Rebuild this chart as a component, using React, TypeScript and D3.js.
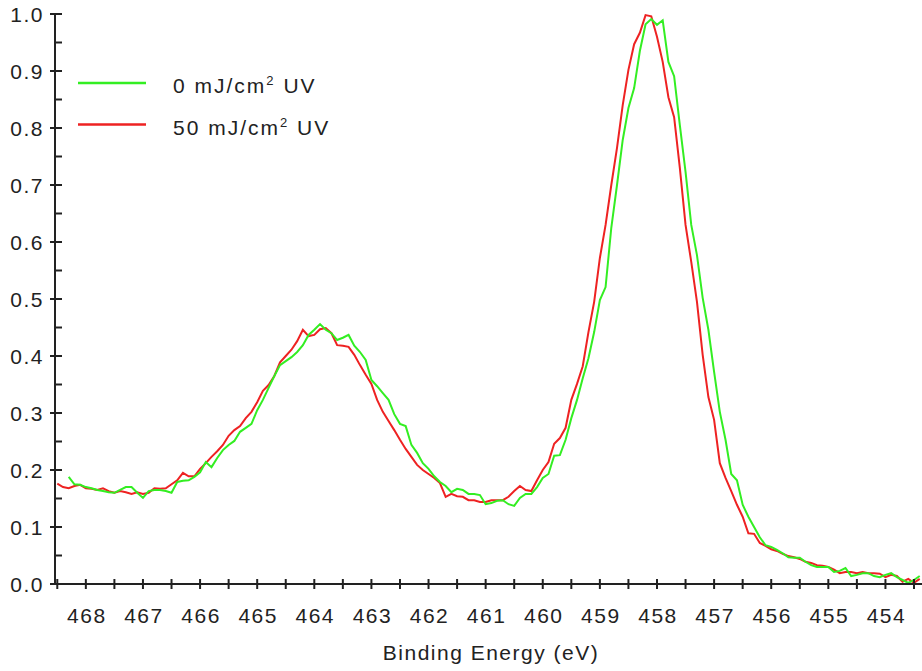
import React from "react";
import * as d3 from "d3";

// sampling grid of the spectrum, 0.1 eV steps from 468.5 eV down to 453.4 eV
const energy = d3.range(0, 152).map((i) => +(468.5 - i * 0.1).toFixed(1));

// 50 mJ/cm2 UV, starts at 468.5 eV
const uv50 = [
  0.176, 0.170, 0.168, 0.172, 0.174, 0.168, 0.167, 0.165, 0.168, 0.163,
  0.160, 0.163, 0.161, 0.158, 0.161, 0.158, 0.160, 0.168, 0.167, 0.168,
  0.175, 0.182, 0.195, 0.189, 0.189, 0.202, 0.212, 0.223, 0.233, 0.244,
  0.260, 0.270, 0.277, 0.291, 0.302, 0.319, 0.339, 0.349, 0.365, 0.389,
  0.400, 0.411, 0.426, 0.446, 0.435, 0.437, 0.447, 0.449, 0.440, 0.419,
  0.418, 0.416, 0.402, 0.384, 0.367, 0.351, 0.323, 0.302, 0.286, 0.270,
  0.253, 0.237, 0.223, 0.209, 0.200, 0.193, 0.186, 0.177, 0.153, 0.158,
  0.154, 0.153, 0.147, 0.147, 0.144, 0.144, 0.147, 0.147, 0.147, 0.153,
  0.163, 0.172, 0.165, 0.163, 0.182, 0.200, 0.214, 0.246, 0.256, 0.274,
  0.323, 0.351, 0.382, 0.442, 0.495, 0.572, 0.630, 0.700, 0.765, 0.840,
  0.902, 0.947, 0.967, 0.998, 0.996, 0.960, 0.916, 0.854, 0.819, 0.730,
  0.630, 0.565, 0.495, 0.402, 0.328, 0.288, 0.212, 0.186, 0.163, 0.139,
  0.118, 0.089, 0.088, 0.072, 0.067, 0.061, 0.058, 0.053, 0.049, 0.047,
  0.044, 0.039, 0.037, 0.033, 0.032, 0.030, 0.025, 0.019, 0.021, 0.021,
  0.019, 0.021, 0.019, 0.019, 0.018, 0.012, 0.016, 0.014, 0.004, 0.009,
  0.002, 0.009,
];

// 0 mJ/cm2 UV, starts at 468.3 eV
const uv0 = [
  0.188, 0.175, 0.174, 0.170, 0.168, 0.165, 0.163, 0.161, 0.160, 0.165,
  0.170, 0.170, 0.160, 0.151, 0.163, 0.165, 0.165, 0.163, 0.160, 0.179,
  0.181, 0.182, 0.188, 0.196, 0.214, 0.205, 0.221, 0.235, 0.244, 0.251,
  0.267, 0.274, 0.281, 0.305, 0.323, 0.344, 0.365, 0.384, 0.391, 0.398,
  0.407, 0.419, 0.437, 0.446, 0.456, 0.446, 0.440, 0.428, 0.432, 0.437,
  0.418, 0.407, 0.393, 0.358, 0.347, 0.335, 0.323, 0.298, 0.281, 0.277,
  0.244, 0.230, 0.212, 0.202, 0.189, 0.179, 0.172, 0.161, 0.167, 0.165,
  0.158, 0.158, 0.156, 0.140, 0.142, 0.146, 0.147, 0.140, 0.137, 0.151,
  0.158, 0.158, 0.170, 0.186, 0.193, 0.225, 0.226, 0.253, 0.291, 0.323,
  0.361, 0.396, 0.442, 0.498, 0.521, 0.625, 0.700, 0.779, 0.835, 0.870,
  0.935, 0.982, 0.991, 0.981, 0.989, 0.916, 0.891, 0.805, 0.723, 0.630,
  0.577, 0.502, 0.446, 0.372, 0.302, 0.253, 0.193, 0.182, 0.139, 0.118,
  0.100, 0.082, 0.068, 0.065, 0.060, 0.054, 0.047, 0.046, 0.046, 0.039,
  0.033, 0.030, 0.030, 0.030, 0.021, 0.023, 0.028, 0.014, 0.016, 0.019,
  0.019, 0.014, 0.012, 0.016, 0.019, 0.012, 0.007, 0.002, 0.007, 0.014,
];

const xLabels = [468, 467, 466, 465, 464, 463, 462, 461, 460, 459, 458, 457, 456, 455, 454];
const yLabels = ["0.0", "0.1", "0.2", "0.3", "0.4", "0.5", "0.6", "0.7", "0.8", "0.9", "1.0"];
const seriesNames = ["0 mJ/cm", "50 mJ/cm"];
const seriesColors = ["#33ee22", "#ee2222"];

const W = 922,
  H = 671;
const left = 55,
  bottom = 584,
  top = 14;

const font = "'Liberation Sans', Arial, sans-serif";
const ink = "#222";

export default function App() {
  const x = d3.scaleLinear().domain([468.54, 453.36]).range([left, W]);
  const y = d3.scaleLinear().domain([0, 1]).range([bottom, top]);

  const line = d3
    .line<[number, number]>()
    .x((d) => x(d[0]))
    .y((d) => y(d[1]));

  const redPts: [number, number][] = uv50.map((v, i) => [energy[i], v]);
  const greenPts: [number, number][] = uv0.map((v, i) => [energy[i + 2], v]);

  const xTicks = d3.range(468.5, 453.3, -0.5);
  const yTicks = d3.range(0, 1.001, 0.05);

  return (
    <svg
      width={W}
      height={H}
      style={{ position: "fixed", left: 0, top: 0, background: "#fff" }}
    >
      <path d={line(redPts) || ""} fill="none" stroke={seriesColors[1]} strokeWidth={2} />
      <path d={line(greenPts) || ""} fill="none" stroke={seriesColors[0]} strokeWidth={2} />

      {/* axes */}
      <line x1={left} x2={left} y1={top - 1} y2={bottom} stroke={ink} strokeWidth={2} />
      <line x1={left} x2={W} y1={bottom} y2={bottom} stroke={ink} strokeWidth={2} />

      {yTicks.map((t, i) => (
        <line
          key={"yt" + i}
          x1={i % 2 === 0 ? left - 5 : left}
          x2={left + 7}
          y1={y(t)}
          y2={y(t)}
          stroke={ink}
          strokeWidth={2}
        />
      ))}
      {yLabels.map((l, i) => (
        <text
          key={"yl" + i}
          x={44}
          y={y(i / 10) + 7.5}
          textAnchor="end"
          fontFamily={font}
          fontSize={21}
          letterSpacing={1.5}
          fill={ink}
        >
          {l}
        </text>
      ))}

      {xTicks.map((t, i) => (
        <line
          key={"xt" + i}
          x1={x(t)}
          x2={x(t)}
          y1={bottom - 5}
          y2={bottom + 5}
          stroke={ink}
          strokeWidth={2}
        />
      ))}
      {xLabels.map((l) => (
        <text
          key={"xl" + l}
          x={x(l) + 1}
          y={623}
          textAnchor="middle"
          fontFamily={font}
          fontSize={21}
          letterSpacing={1.5}
          fill={ink}
        >
          {l}
        </text>
      ))}
      <text
        x={491}
        y={660}
        textAnchor="middle"
        fontFamily={font}
        fontSize={21}
        letterSpacing={1.5}
        fill={ink}
      >
        Binding Energy (eV)
      </text>

      {/* legend */}
      {seriesNames.map((name, i) => (
        <g key={name}>
          <line
            x1={78}
            x2={146}
            y1={83 + i * 41.5}
            y2={83 + i * 41.5}
            stroke={seriesColors[i]}
            strokeWidth={2.5}
          />
          <text
            x={173}
            y={93 + i * 41.5}
            fontFamily={font}
            fontSize={21}
            letterSpacing={2}
            fill={ink}
          >
            {name}
            <tspan fontSize={13} dy={-8}>
              2
            </tspan>
            <tspan dy={8}> UV</tspan>
          </text>
        </g>
      ))}
    </svg>
  );
}
